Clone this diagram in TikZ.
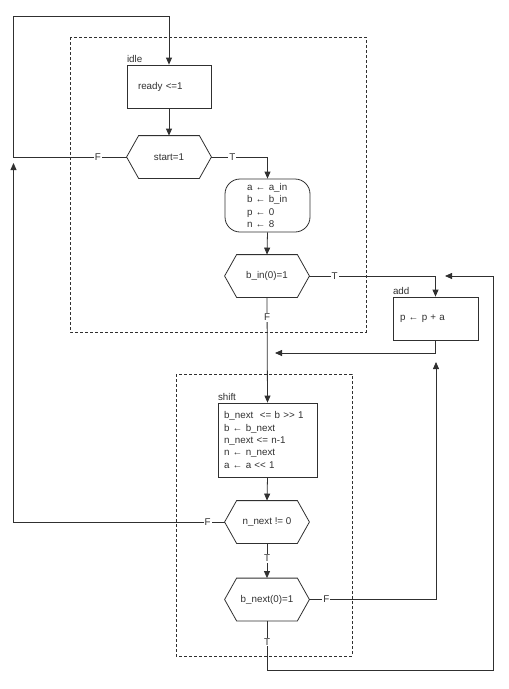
\documentclass[tikz,border=0pt]{standalone}
\usepackage{fontspec}
\setmainfont{Liberation Sans}
\usetikzlibrary{arrows.meta}
\definecolor{ln}{HTML}{303030}
\newcommand\drawhex[1]{\draw[ln,line width=0.8pt] (#1.west) -- ([xshift=12pt]#1.north west) -- ([xshift=-12pt]#1.north east) -- (#1.east) -- ([xshift=-12pt]#1.south east) -- ([xshift=12pt]#1.south west) -- cycle;}
\begin{document}
\begin{tikzpicture}[x=1pt,y=-1pt,
  font=\fontsize{9.8}{12.3}\selectfont, text=ln,
  every path/.style={line width=0.8pt},
  conn/.style={draw=ln,line width=0.8pt},
  arr/.style={conn,-{Triangle[length=7pt,width=6pt]}},
  boxA/.style={draw=ln,line width=0.8pt,rectangle,minimum height=#1,align=left,inner ysep=0pt},
  hexnode/.style={rectangle,minimum width=84pt,minimum height=42pt,inner sep=0pt},
  lab/.style={fill=white,inner sep=1pt},
  frame/.style={draw=ln,line width=0.7pt,dash pattern=on 3pt off 2pt},
  tag/.style={anchor=south west,inner sep=0pt,yshift=2pt}]
\useasboundingbox (0,0) rectangle (509,689);
% frames
\draw[frame] (70,37) rectangle (366,332);
\draw[frame] (176,374) rectangle (352,656);
% nodes
\node[boxA=43pt,inner xsep=11pt,text width=62pt] (ready) at (169,86.5) {ready <=1};
\node[hexnode] (start) at (169,157) {start=1};
\drawhex{start}
\node[draw=ln,line width=0.8pt,rounded corners=15pt,minimum height=53pt,inner xsep=22pt,text width=41pt,align=left,inner ysep=0pt] (init) at (267.5,205.5) {a ← a\_in\\b ← b\_in\\p ← 0\\n ← 8};
\node[hexnode] (bin) at (267,276) {b\_in(0)=1};
\drawhex{bin}
\node[boxA=43pt,inner xsep=7pt,text width=71pt] (add) at (435.5,318.5) {p ← p + a};
\node[boxA=74pt,inner xsep=6pt,text width=87pt] (shift) at (267.5,440) {b\_next \ <= b >{}> 1\\b ← b\_next\\n\_next <= n-1\\n ← n\_next\\a ← a <{}< 1};
\node[hexnode] (nnext) at (267,522) {n\_next != 0};
\drawhex{nnext}
\node[hexnode] (bnext) at (267,599.5) {b\_next(0)=1};
\drawhex{bnext}
% tags
\node[tag] (tidle) at (ready.north west) {idle};
\node[tag] (tadd) at (add.north west) {add};
\node[tag] (tshift) at (shift.north west) {shift};
% coordinates
\coordinate (cl) at (13.5,157);
\coordinate (ctop) at (13.5,16);
\coordinate (m1) at (275,353);
\coordinate (m2) at (436,362);
\coordinate (r1) at (493,670);
\coordinate (m3) at (445,276);
\coordinate (m4) at (13.5,163);
% connectors
\draw[arr] (start.west) -- node[lab,pos=0.255]{F} (cl) -- (ctop) -| (ready.north);
\draw[arr] (ready.south) -- (start.north);
\draw[arr] (start.east) -| node[lab,pos=0.186]{T} (init.north);
\draw[arr] (init.south) -- (bin.north);
\draw[arr] (bin.east) -| node[lab,pos=0.1]{T} (add.north);
\draw[arr] (bin.south) -- node[lab,pos=0.19]{F} (shift.north);
\draw[arr] (add.south) |- (m1);
\draw[arr] (shift.south) -- (nnext.north);
\draw[arr] (nnext.west) -| node[lab,pos=0.04]{F} (m4);
\draw[arr] (nnext.south) -- node[lab,pos=0.43]{T} (bnext.north);
\draw[arr] (bnext.east) -| node[lab,pos=0.067]{F} (m2);
\draw[arr] (bnext.south) -- node[lab,pos=0.43]{T} (bnext.south |- r1) -- (r1) -- (r1 |- m3) -- (m3);
\end{tikzpicture}
\end{document}
